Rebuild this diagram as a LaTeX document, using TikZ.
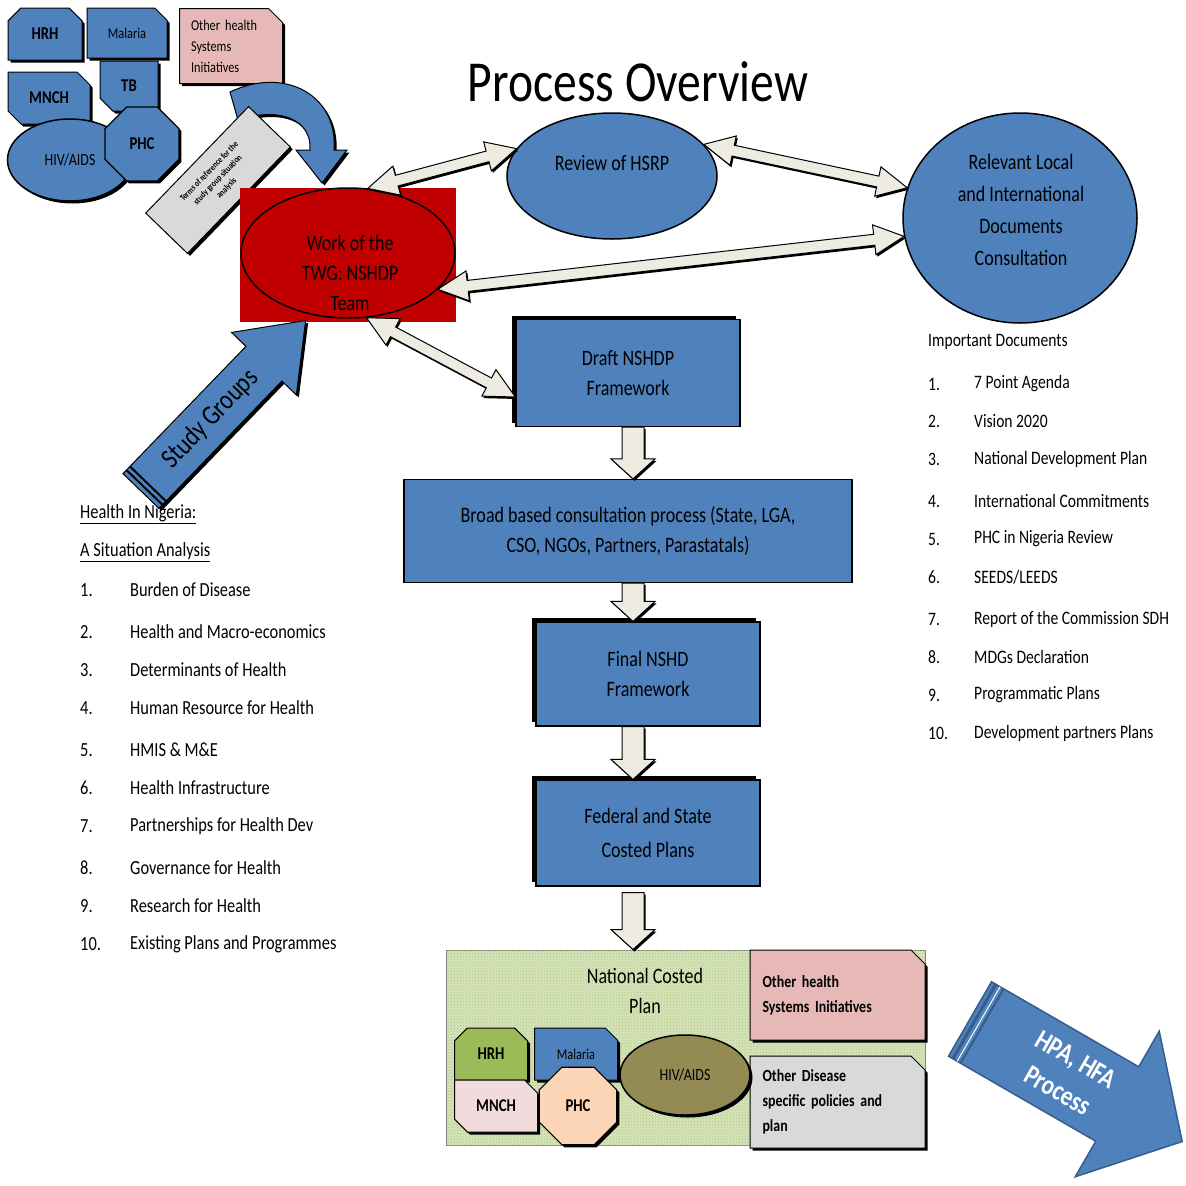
\documentclass[tikz,border=0pt]{standalone}
\usepackage{fontspec}
\setmainfont{Carlito}[FakeStretch=0.82]
\usetikzlibrary{shapes.geometric,shapes.misc,shadows,patterns}

\definecolor{hblue}{RGB}{79,129,189}
\definecolor{hdarkblue}{RGB}{56,93,138}
\definecolor{hred}{RGB}{192,0,0}
\definecolor{hpink}{RGB}{230,185,184}
\definecolor{hgray}{RGB}{217,217,217}
\definecolor{hgreen}{RGB}{155,187,89}
\definecolor{hrose}{RGB}{242,220,219}
\definecolor{hpeach}{RGB}{251,213,181}
\definecolor{holive}{RGB}{148,138,84}
\definecolor{hbeige}{RGB}{238,236,225}
\definecolor{hlime}{RGB}{214,227,188}
\definecolor{hlimedot}{RGB}{170,200,110}

\tikzset{
  blackshadow/.style={drop shadow={shadow xshift=2.5pt,shadow yshift=-2.5pt,fill=black,opacity=1}},
  topshadow/.style={drop shadow={shadow xshift=-4pt,shadow yshift=4pt,fill=black,opacity=1}},
  tile/.style={chamfered rectangle,chamfered rectangle xsep=7pt,chamfered rectangle ysep=7pt,
    draw=black,line width=1pt,inner sep=0pt,blackshadow},
  tiletext/.style={font=\bfseries\fontsize{18}{18}\selectfont},
  flowbox/.style={rectangle,fill=hblue,draw=black,line width=1.2pt,inner sep=0pt,align=center,
    font=\fontsize{22}{30}\selectfont},
  linkarrow/.style={fill=hbeige,draw=black,line width=1pt,line join=miter,
    drop shadow={shadow xshift=1.5pt,shadow yshift=-2pt,fill=black,opacity=1}},
  bigarrow/.style={fill=hblue,draw=black,line width=1pt,blackshadow},
  listtext/.style={anchor=west,inner sep=0pt,font=\fontsize{20}{20}\selectfont},
  doctext/.style={anchor=west,inner sep=0pt,font=\fontsize{19}{19}\selectfont}
}

% block arrow with two heads between two named points
\newcommand\twoway[2]{%
  \pgfpointdiff{\pgfpointanchor{#1}{center}}{\pgfpointanchor{#2}{center}}%
  \pgfgetlastxy\arrdx\arrdy
  \pgfmathsetmacro\arrang{atan2(\arrdy,\arrdx)}%
  \pgfmathsetmacro\arrlen{veclen(\arrdx,\arrdy)}%
  \begin{scope}[shift={(#1)},rotate=\arrang]
    \draw[linkarrow] (0,0) -- (30,15) -- (30,5.5) -- (\arrlen-30,5.5) -- (\arrlen-30,15)
      -- (\arrlen,0) -- (\arrlen-30,-15) -- (\arrlen-30,-5.5) -- (30,-5.5) -- (30,-15) -- cycle;
  \end{scope}}
% block arrow with one head
\newcommand\oneway[2]{%
  \pgfpointdiff{\pgfpointanchor{#1}{center}}{\pgfpointanchor{#2}{center}}%
  \pgfgetlastxy\arrdx\arrdy
  \pgfmathsetmacro\arrang{atan2(\arrdy,\arrdx)}%
  \pgfmathsetmacro\arrlen{veclen(\arrdx,\arrdy)}%
  \begin{scope}[shift={(#1)},rotate=\arrang]
    \draw[linkarrow] (0,-11) -- (\arrlen-20,-11) -- (\arrlen-20,-22) -- (\arrlen,0)
      -- (\arrlen-20,22) -- (\arrlen-20,11) -- (0,11) -- cycle;
  \end{scope}}

\begin{document}
\begin{tikzpicture}[x=1pt,y=-1pt]
\useasboundingbox (0,0) rectangle (1186,1186);

\node[font=\fontsize{58}{58}\selectfont] (title) at (638,82) {Process Overview};

% programmes, top left
\node[tile,fill=hblue,chamfered rectangle corners={north west,north east},
  minimum width=74pt,minimum height=52pt,tiletext] (hrh) at (45,34) {HRH};
\node[tile,fill=hblue,chamfered rectangle corners=north east,
  minimum width=80pt,minimum height=50pt,font=\fontsize{15}{15}\selectfont] (malaria) at (127,33) {Malaria};
\node[tile,fill=hpink,chamfered rectangle corners=north east,minimum width=103pt,minimum height=75pt,
  text width=80pt,align=left,font=\fontsize{15}{21}\selectfont] (ohsi) at (231,46) {Other health\\Systems\\Initiatives};
\node[tile,fill=hblue,chamfered rectangle corners={north east,south west},
  minimum width=82pt,minimum height=52pt,tiletext] (mnch) at (49,98) {MNCH};
\node[tile,fill=hblue,chamfered rectangle corners=south west,
  minimum width=58pt,minimum height=50pt,tiletext] (tb) at (129,86) {TB};
\node[ellipse,fill=hblue,draw=black,line width=1.5pt,minimum width=125pt,minimum height=82pt,
  font=\fontsize{17}{17}\selectfont,blackshadow] (hiv) at (70,160) {HIV/AIDS};
\node[regular polygon,regular polygon sides=8,fill=hblue,draw=black,line width=1.2pt,
  minimum size=80pt,inner sep=0pt,tiletext,blackshadow] (phc) at (142,144) {PHC};

% curved arrow into the TWG
\draw[bigarrow] (230,92) .. controls (285,66) and (338,95) .. (334,150) -- (347,150) -- (322,183)
  -- (296,150) -- (310,150) .. controls (312,120) and (280,106) .. (238,120) -- cycle;
\node[rectangle,rotate=46,fill=hgray,draw=black,line width=1pt,minimum width=148pt,minimum height=58pt,
  align=center,font=\bfseries\fontsize{9}{12}\selectfont,blackshadow] (guide) at (218,180)
  {Terms of reference for the\\study group situation\\analysis};

% TWG
\node[rectangle,fill=hred,minimum width=216pt,minimum height=134pt] (twgbox) at (348,255) {};
\node[ellipse,fill=hred,draw=black,line width=1.5pt,minimum width=214pt,minimum height=130pt] (twg) at (348,253) {};
\node[align=center,font=\fontsize{22}{30}\selectfont] (twgtxt) at (350,273) {Work of the\\TWG: NSHDP\\Team};

% review and documents
\node[ellipse,fill=hblue,draw=black,line width=1.5pt,minimum width=210pt,minimum height=126pt] (review) at (612,176) {};
\node[font=\fontsize{22}{22}\selectfont] (reviewtxt) at (612,163) {Review of HSRP};
\node[ellipse,fill=hblue,draw=black,line width=1.5pt,minimum width=234pt,minimum height=210pt] (docs) at (1020,218) {};
\node[align=center,font=\fontsize{22}{32}\selectfont] (docstxt) at (1021,210)
  {Relevant Local\\and International\\Documents\\Consultation};

\node[doctext] (impdocs) at (928,342) {Important Documents};
\foreach \i/\yy/\txt in {1/384/7 Point Agenda,2/421/Vision 2020,3/459/National Development Plan,
  4/501/International Commitments,5/539/PHC in Nigeria Review,6/577/{SEEDS/LEEDS},
  7/619/Report of the Commission SDH,8/657/MDGs Declaration,9/695/Programmatic Plans,
  10/733/Development partners Plans}{
  \node[doctext] (docnum\i) at (928,\yy) {\i.};
  \node[doctext] (docitem\i) at (974,\yy) {\txt};
}

% situation analysis
\node[listtext] (sahead1) at (80,514) {\underline{Health In Nigeria:}};
\node[listtext] (sahead2) at (80,552) {\underline{A Situation Analysis}};
\foreach \i/\yy/\txt in {1/590/Burden of Disease,2/632/Health and Macro-economics,
  3/670/Determinants of Health,4/708/Human Resource for Health,5/750/HMIS \& M\&E,
  6/788/Health Infrastructure,7/826/Partnerships for Health Dev,8/868/Governance for Health,
  9/906/Research for Health,10/944/Existing Plans and Programmes}{
  \node[listtext] (sanum\i) at (80,\yy) {\i.};
  \node[listtext] (saitem\i) at (130,\yy) {\txt};
}

% study groups
\begin{scope}[shift={(141,491)},rotate=46]
  \draw[bigarrow] (0,-25) -- (177,-25) -- (177,-45) -- (237,0) -- (177,45) -- (177,25) -- (0,25) -- cycle;
  \draw[line width=2pt] (5,-25) -- (5,25) (10,-25) -- (10,25);
  \node[transform shape,font=\fontsize{28}{28}\selectfont] (study) at (100,0) {Study Groups};
\end{scope}

% main flow
\node[flowbox,topshadow,minimum width=224pt,minimum height=107pt] (draft) at (628,373) {Draft NSHDP\\Framework};
\node[flowbox,minimum width=448pt,minimum height=103pt] (broad) at (628,531)
  {Broad based consultation process (State, LGA,\\CSO, NGOs, Partners, Parastatals)};
\node[flowbox,topshadow,minimum width=224pt,minimum height=104pt] (final) at (648,674) {Final NSHD\\Framework};
\node[flowbox,topshadow,minimum width=224pt,minimum height=106pt,font=\fontsize{22}{34}\selectfont]
  (federal) at (648,833) {Federal and State\\Costed Plans};

% national costed plan
\node[rectangle,draw=gray,line width=1pt,fill=hlime,postaction={pattern=crosshatch dots,pattern color=hlimedot},
  minimum width=479pt,minimum height=195pt] (ncp) at (685.5,1047.5) {};
\node[align=center,font=\fontsize{22}{30}\selectfont] (ncptxt) at (645,991) {National Costed\\Plan};
\node[tile,fill=hpink,chamfered rectangle corners=north east,minimum width=175pt,minimum height=90pt,
  text width=150pt,align=left,font=\bfseries\fontsize{17}{25}\selectfont] (ohsi2) at (837.5,995)
  {Other health\\Systems Initiatives};
\node[tile,fill=hgray,chamfered rectangle corners=north east,minimum width=175pt,minimum height=92pt,
  text width=150pt,align=left,font=\bfseries\fontsize{17}{25}\selectfont] (ods) at (837.5,1102)
  {Other Disease\\specific policies and\\plan};
\node[tile,fill=hgreen,chamfered rectangle corners={north west,north east},
  minimum width=73pt,minimum height=52pt,tiletext] (hrh2) at (491,1054) {HRH};
\node[tile,fill=hblue,chamfered rectangle corners=north east,minimum width=83pt,minimum height=52pt,
  font=\fontsize{15}{15}\selectfont] (malaria2) at (576,1054) {Malaria};
\node[tile,fill=hrose,chamfered rectangle corners={north east,south west},
  minimum width=83pt,minimum height=52pt,tiletext] (mnch2) at (496,1106) {MNCH};
\node[regular polygon,regular polygon sides=8,fill=hpeach,draw=black,line width=1.2pt,
  minimum size=84pt,inner sep=0pt,tiletext,blackshadow] (phc2) at (578,1106) {PHC};
\node[ellipse,fill=holive,draw=black,line width=1.5pt,minimum width=130pt,minimum height=80pt,
  font=\fontsize{17}{17}\selectfont,blackshadow] (hiv2) at (685,1075) {HIV/AIDS};

% onward process
\begin{scope}[shift={(970,1019)},rotate=-30]
  \draw[fill=hblue,draw=hdarkblue,line width=1.5pt] (0,-43) -- (170,-43) -- (170,-84) -- (245,0)
    -- (170,84) -- (170,43) -- (0,43) -- cycle;
  \draw[hdarkblue,line width=3pt] (5,-43) -- (5,43);
  \draw[white,line width=1pt] (10,-43) -- (10,43);
  \draw[hdarkblue,line width=2pt] (14,-43) -- (14,43);
  \node[transform shape,text=white,align=center,font=\bfseries\fontsize{28}{36}\selectfont] (hpa) at (112,0)
    {HPA, HFA\\Process};
\end{scope}

% connectors
\coordinate (twgup) at (twg.73);
\coordinate (revleft) at (review.164);
\coordinate (revright) at (review.19);
\coordinate (docsup) at (docs.165);
\coordinate (docslow) at (docs.189);
\coordinate (twgright) at (twg.338);
\coordinate (twgdown) at (twg.286);
\coordinate (draftin) at ([yshift=-24pt]draft.west);
\twoway{twgup}{revleft}
\twoway{revright}{docsup}
\twoway{docslow}{twgright}
\twoway{twgdown}{draftin}

\coordinate (draftout) at ([xshift=5pt]draft.south);
\coordinate (broadin) at ([xshift=5pt]broad.north);
\coordinate (broadout) at ([xshift=5pt]broad.south);
\coordinate (finalin) at ([xshift=-15pt]final.north);
\coordinate (finalout) at ([xshift=-15pt]final.south);
\coordinate (federalin) at ([xshift=-15pt]federal.north);
\coordinate (federalout) at ([xshift=-15pt,yshift=-6pt]federal.south);
\coordinate (ncpin) at ([xshift=-52.5pt]ncp.north);
\oneway{draftout}{broadin}
\oneway{broadout}{finalin}
\oneway{finalout}{federalin}
\oneway{federalout}{ncpin}
\end{tikzpicture}
\end{document}
